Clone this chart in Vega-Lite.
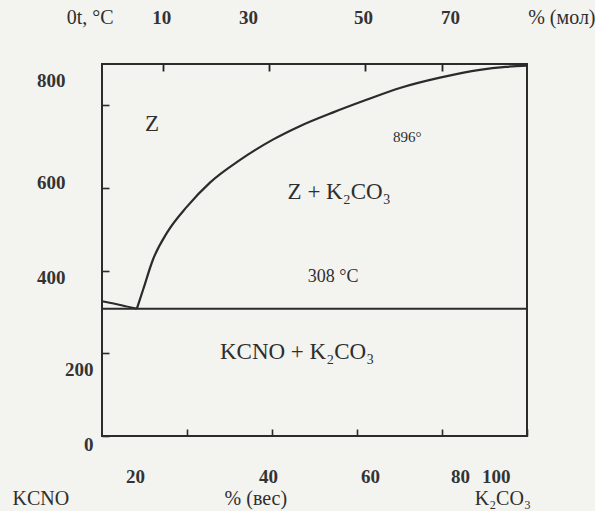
{
  "$schema": "https://vega.github.io/schema/vega-lite/v6.json",
  "width": 425,
  "height": 372,
  "autosize": {"type": "none"},
  "padding": {"left": 102, "top": 64, "right": 68, "bottom": 75},
  "background": "#f3f3f0",
  "config": {
    "view": {"stroke": "#2b2b2b", "strokeWidth": 2},
    "font": "Liberation Serif",
    "axis": {
      "domain": false,
      "grid": false,
      "ticks": true,
      "tickColor": "#2b2b2b",
      "tickWidth": 1.6,
      "labelFont": "Liberation Serif",
      "labelFontSize": 19,
      "labelFontWeight": "bold",
      "labelColor": "#333333",
      "title": null
    }
  },
  "datasets": {
    "k2co3Liquidus": [
      {"wt": 8.2, "t": 308}, {"wt": 9.7, "t": 355}, {"wt": 12, "t": 427},
      {"wt": 15.3, "t": 492}, {"wt": 20, "t": 555}, {"wt": 25.4, "t": 613},
      {"wt": 32.5, "t": 668}, {"wt": 40.2, "t": 717}, {"wt": 46.4, "t": 749},
      {"wt": 54.4, "t": 783}, {"wt": 62.4, "t": 814}, {"wt": 70.1, "t": 842},
      {"wt": 79.5, "t": 867}, {"wt": 88.9, "t": 886}, {"wt": 95, "t": 893},
      {"wt": 100, "t": 896}
    ],
    "kcnoLiquidus": [
      {"wt": 0, "t": 326}, {"wt": 3, "t": 320}, {"wt": 6, "t": 313}, {"wt": 8.2, "t": 308}
    ],
    "eutectic": [
      {"wt": 0, "t": 308}, {"wt": 100, "t": 308}
    ],
    "regions": [
      {"wt": 11.8, "t": 755, "label": "Z"},
      {"wt": 55.8, "t": 591, "label": "Z + K₂CO₃"},
      {"wt": 45.9, "t": 203, "label": "KCNO + K₂CO₃"}
    ],
    "notes": [
      {"wt": 71.8, "t": 724, "label": "896°", "size": "small"},
      {"wt": 54.4, "t": 384, "label": "308 °C", "size": "mid"}
    ],
    "outerText": [
      {"wt": -14.4, "t": -152, "label": "KCNO"},
      {"wt": 36.2, "t": -152, "label": "% (вес)"},
      {"wt": 94.3, "t": -152, "label": "K₂CO₃"},
      {"wt": 108.2, "t": 1011, "label": "% (мол)"},
      {"wt": -2.8, "t": 1011, "label": "0t, °C"}
    ]
  },
  "layer": [
    {
      "data": {"name": "eutectic"},
      "mark": {"type": "line", "color": "#2b2b2b", "strokeWidth": 2},
      "encoding": {
        "x": {"field": "wt", "type": "quantitative", "scale": {"domain": [0, 100], "nice": false},
          "axis": {
            "orient": "bottom", "values": [20, 40, 60, 80, 100], "tickSize": -7, "labelPadding": 38,
            "labelOffset": {"condition": [
              {"test": "datum.value == 20", "value": -52},
              {"test": "datum.value == 40", "value": -4},
              {"test": "datum.value == 60", "value": 13},
              {"test": "datum.value == 80", "value": 18},
              {"test": "datum.value == 100", "value": -17}
            ], "value": 0}
          }},
        "y": {"field": "t", "type": "quantitative", "scale": {"domain": [0, 900], "nice": false},
          "axis": {
            "orient": "left", "values": [0, 200, 400, 600, 800], "tickSize": -7,
            "labelPadding": {"condition": {"test": "datum.value <= 200", "value": 16}, "value": 44},
            "labelOffset": {"condition": [
              {"test": "datum.value == 800", "value": -25},
              {"test": "datum.value == 600", "value": -6},
              {"test": "datum.value == 400", "value": 7},
              {"test": "datum.value == 200", "value": 16},
              {"test": "datum.value == 0", "value": 8}
            ], "value": 0}
          }}
      }
    },
    {
      "data": {"name": "kcnoLiquidus"},
      "mark": {"type": "line", "color": "#2b2b2b", "strokeWidth": 2, "interpolate": "monotone"},
      "encoding": {
        "x": {"field": "wt", "type": "quantitative",
          "axis": {
            "orient": "top", "values": [14.4, 39.3, 61.9, 80], "tickSize": -7, "labelPadding": 44,
            "zindex": 2, "tickColor": "#222222", "tickOpacity": 1, "tickWidth": 1.8,
            "labelExpr": "datum.value < 20 ? '10' : datum.value < 50 ? '30' : datum.value < 70 ? '50' : '70'",
            "labelOffset": {"condition": [
              {"test": "datum.value == 39.3", "value": -21},
              {"test": "datum.value == 80", "value": 8}
            ], "value": -2}
          }},
        "y": {"field": "t", "type": "quantitative"}
      }
    },
    {
      "data": {"name": "k2co3Liquidus"},
      "mark": {"type": "line", "color": "#2b2b2b", "strokeWidth": 2.2, "interpolate": "monotone"},
      "encoding": {
        "x": {"field": "wt", "type": "quantitative", "axis": null},
        "y": {"field": "t", "type": "quantitative"}
      }
    },
    {
      "data": {"name": "regions"},
      "mark": {"type": "text", "fontSize": 23, "color": "#2e2e2e", "font": "Liberation Serif"},
      "encoding": {
        "x": {"field": "wt", "type": "quantitative", "axis": null},
        "y": {"field": "t", "type": "quantitative"},
        "text": {"field": "label"}
      }
    },
    {
      "data": {"name": "notes"},
      "transform": [{"filter": "datum.size == 'mid'"}],
      "mark": {"type": "text", "fontSize": 18, "color": "#2e2e2e", "font": "Liberation Serif"},
      "encoding": {
        "x": {"field": "wt", "type": "quantitative", "axis": null},
        "y": {"field": "t", "type": "quantitative"},
        "text": {"field": "label"}
      }
    },
    {
      "data": {"name": "notes"},
      "transform": [{"filter": "datum.size == 'small'"}],
      "mark": {"type": "text", "fontSize": 15, "color": "#2e2e2e", "font": "Liberation Serif"},
      "encoding": {
        "x": {"field": "wt", "type": "quantitative", "axis": null},
        "y": {"field": "t", "type": "quantitative"},
        "text": {"field": "label"}
      }
    },
    {
      "data": {"name": "outerText"},
      "mark": {"type": "text", "fontSize": 20, "color": "#2e2e2e", "font": "Liberation Serif"},
      "encoding": {
        "x": {"field": "wt", "type": "quantitative", "axis": null},
        "y": {"field": "t", "type": "quantitative"},
        "text": {"field": "label"}
      }
    }
  ],
  "resolve": {"axis": {"x": "independent"}}
}
